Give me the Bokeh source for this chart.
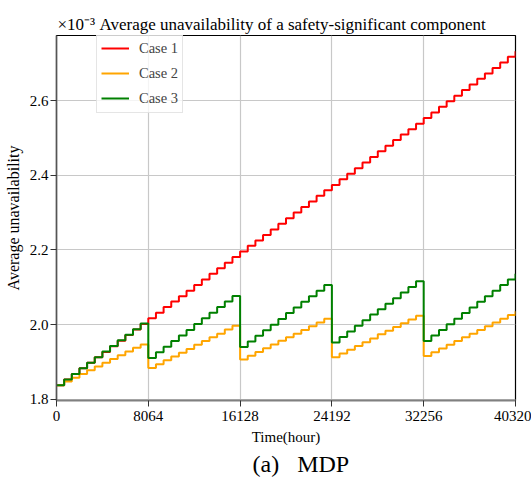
from bokeh.plotting import figure
from bokeh.models import FixedTicker, PrintfTickFormatter, Range1d, Title
from bokeh.embed import file_html
from bokeh.resources import INLINE

# ---------------- data ----------------
hours = list(range(0, 40321, 672))  # 4-week inspection steps, 0 .. 40320 h

case1 = [1.838, 1.853, 1.868, 1.883, 1.898, 1.913, 1.927, 1.942, 1.957, 1.972,
         1.987, 2.002, 2.017, 2.032, 2.047, 2.062, 2.076, 2.091, 2.106, 2.121,
         2.136, 2.151, 2.166, 2.181, 2.196, 2.211, 2.225, 2.240, 2.255, 2.270,
         2.285, 2.300, 2.315, 2.330, 2.345, 2.360, 2.374, 2.389, 2.404, 2.419,
         2.434, 2.449, 2.464, 2.479, 2.494, 2.509, 2.523, 2.538, 2.553, 2.568,
         2.583, 2.598, 2.613, 2.628, 2.643, 2.658, 2.672, 2.687, 2.702, 2.717,
         2.732]

case2 = [1.838, 1.848, 1.858, 1.868, 1.878, 1.888, 1.898, 1.908, 1.918, 1.928, 1.938, 1.947,
         1.884, 1.894, 1.905, 1.915, 1.925, 1.935, 1.946, 1.956, 1.966, 1.976, 1.987, 1.997,
         1.907, 1.917, 1.927, 1.937, 1.947, 1.957, 1.966, 1.976, 1.986, 1.996, 2.006, 2.016,
         1.913, 1.923, 1.933, 1.943, 1.953, 1.963, 1.974, 1.984, 1.994, 2.004, 2.014, 2.024,
         1.916, 1.926, 1.936, 1.946, 1.956, 1.966, 1.976, 1.986, 1.996, 2.006, 2.016, 2.026,
         2.036]

case3 = [1.838, 1.853, 1.868, 1.883, 1.898, 1.913, 1.928, 1.943, 1.958, 1.973, 1.988, 2.003,
         1.911, 1.926, 1.941, 1.956, 1.971, 1.986, 2.002, 2.017, 2.032, 2.047, 2.062, 2.077,
         1.940, 1.955, 1.970, 1.985, 2.000, 2.015, 2.031, 2.046, 2.061, 2.076, 2.091, 2.106,
         1.952, 1.967, 1.982, 1.997, 2.012, 2.027, 2.041, 2.056, 2.071, 2.086, 2.101, 2.116,
         1.956, 1.971, 1.986, 2.001, 2.016, 2.031, 2.046, 2.061, 2.076, 2.091, 2.106, 2.121,
         2.136]

series_names = ["Case 1", "Case 2", "Case 3"]
series_colors = ["#ff0000", "#ffa500", "#008000"]

x_ticks = [0, 8064, 16128, 24192, 32256, 40320]
y_ticks = [1.8, 2.0, 2.2, 2.4, 2.6]

title_text = "×10⁻³\u00a0Average unavailability of a safety-significant component"
x_label = "Time(hour)"
y_label = "Average unavailability"
caption_text = "(a)\u00a0\u00a0\u00a0MDP"

# ---------------- layout ----------------
FONT = "Liberation Serif"
W, H = 531, 484
BL, BT = 56, 35          # frame offset inside canvas
FW, FH = 459, 365        # frame size
X0, X1 = 0, 40320
Y0, Y1 = 1.797, 2.774

p = figure(width=W, height=H, output_backend="svg", toolbar_location=None,
           x_range=Range1d(X0, X1), y_range=Range1d(Y0, Y1),
           min_border_left=BL, min_border_top=BT,
           min_border_right=W - BL - FW, min_border_bottom=H - BT - FH)

for ys, name, col in zip([case1, case2, case3], series_names, series_colors):
    p.step(hours, ys, mode="after", line_color=col, line_width=2, legend_label=name)

# axes
for ax in (p.xaxis[0], p.yaxis[0]):
    ax.major_label_text_font = FONT
    ax.major_label_text_font_size = "15px"
    ax.major_label_text_color = "#000000"
    ax.axis_label_text_font = FONT
    ax.axis_label_text_font_style = "normal"
    ax.axis_label_text_color = "#000000"
    ax.minor_tick_line_color = None
    ax.major_tick_out = 6
    ax.major_tick_in = 0
    ax.major_tick_line_color = "#333333"

p.xaxis.ticker = FixedTicker(ticks=x_ticks)
p.yaxis.ticker = FixedTicker(ticks=y_ticks)
p.yaxis.formatter = PrintfTickFormatter(format="%.1f")
p.xaxis.axis_label = x_label
p.yaxis.axis_label = y_label
p.xaxis.axis_label_text_font_size = "15px"
p.yaxis.axis_label_text_font_size = "16px"
p.xaxis.major_label_standoff = 4
p.yaxis.major_label_standoff = 2
p.xaxis.axis_label_standoff = 5
p.yaxis.axis_label_standoff = 5
p.xaxis.axis_line_color = "#808080"
p.xaxis.axis_line_width = 2
p.yaxis.axis_line_color = "#555555"
p.yaxis.axis_line_width = 1.5

p.xgrid.ticker = FixedTicker(ticks=x_ticks)
p.ygrid.ticker = FixedTicker(ticks=y_ticks)
p.grid.grid_line_color = "#c8c8c8"
p.grid.grid_line_width = 1.2

p.outline_line_color = "#000000"
p.outline_line_width = 1.2
p.background_fill_color = "white"
p.border_fill_color = "white"

# legend
lg = p.legend[0]
lg.location = (40, 287)
lg.label_text_font = FONT
lg.label_text_font_size = "14.5px"
lg.glyph_width = 28
lg.glyph_height = 20
lg.label_height = 20
lg.spacing = 5
lg.padding = 4
lg.label_standoff = 10
lg.margin = 0
lg.border_line_color = "#cccccc"
lg.border_line_width = 1
lg.background_fill_alpha = 0.8

# title above and caption below
p.add_layout(Title(text=title_text, align="left", offset=1, standoff=4,
                   text_font=FONT, text_font_size="17px",
                   text_font_style="normal", text_color="#000000"), "above")
p.add_layout(Title(text=caption_text, align="left", offset=196, standoff=2,
                   text_font=FONT, text_font_size="24px",
                   text_font_style="normal", text_color="#000000"), "below")

open("out.html", "w").write(file_html(p, INLINE))
